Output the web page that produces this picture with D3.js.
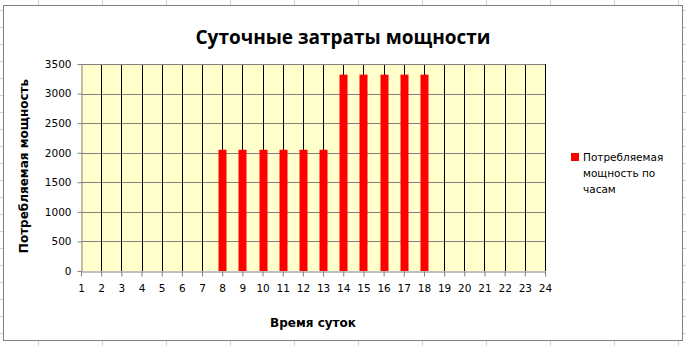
<!DOCTYPE html>
<html>
<head>
<meta charset="utf-8">
<script src="https://cdn.jsdelivr.net/npm/d3@7"></script>
<style>
  body { margin: 0; background: #fff; }
  svg { display: block; }
</style>
</head>
<body>
<div id="chart"></div>
<script>
// hours of the day and power used per hour
const hours = d3.range(1, 25);
const power = [0, 0, 0, 0, 0, 0, 0, 2050, 2050, 2050, 2050, 2050, 2050,
               3320, 3320, 3320, 3320, 3320, 0, 0, 0, 0, 0, 0];
const yTicks = [0, 500, 1000, 1500, 2000, 2500, 3000, 3500];

const width = 686, height = 346;
const svg = d3.select("#chart").append("svg")
    .attr("width", width)
    .attr("height", height);

// spreadsheet cells behind the chart
const sheet = svg.append("g").attr("stroke", "#d0d0d0").attr("stroke-width", 1);
d3.range(38.5, width, 64).forEach(x => {
    sheet.append("line").attr("x1", x).attr("x2", x).attr("y1", 0).attr("y2", height);
});
d3.range(10.5, height, 17).forEach(y => {
    sheet.append("line").attr("x1", 0).attr("x2", width).attr("y1", y).attr("y2", y);
});

// chart area
svg.append("rect")
    .attr("x", 3.5).attr("y", 5.5)
    .attr("width", 679).attr("height", 335)
    .attr("fill", "#fff")
    .attr("stroke", "#808080");

const x = d3.scaleLinear().domain([1, 24]).range([81, 545]);
const y = d3.scaleLinear().domain([0, 3500]).range([271, 64]);

svg.append("rect")
    .attr("x", x(1)).attr("y", y(3500))
    .attr("width", x(24) - x(1)).attr("height", y(0) - y(3500))
    .attr("fill", "#ffffcc");

// horizontal gridlines
svg.append("g")
    .selectAll("line")
    .data(yTicks.slice(1))
    .join("line")
    .attr("x1", x(1)).attr("x2", x(24))
    .attr("y1", d => Math.round(y(d)) + 0.5)
    .attr("y2", d => Math.round(y(d)) + 0.5)
    .attr("stroke", "#808080");

// vertical gridlines
svg.append("g")
    .selectAll("line")
    .data(hours.slice(1))
    .join("line")
    .attr("x1", d => Math.round(x(d)) + 0.5)
    .attr("x2", d => Math.round(x(d)) + 0.5)
    .attr("y1", y(3500)).attr("y2", y(0))
    .attr("stroke", "#000");

// bars
const barW = 8;
svg.append("g")
    .selectAll("rect")
    .data(hours.map((h, i) => ({ h, v: power[i] })).filter(d => d.v > 0))
    .join("rect")
    .attr("x", d => Math.round(x(d.h)) + 0.5 - barW / 2)
    .attr("y", d => y(d.v))
    .attr("width", barW)
    .attr("height", d => y(0) - y(d.v))
    .attr("fill", "#ff0000");

// axes
const yAxis = svg.append("g")
    .attr("transform", `translate(${Math.round(x(1)) + 0.5},0)`)
    .call(d3.axisLeft(y).tickValues(yTicks).tickFormat(d3.format("d")).tickSize(4).tickPadding(6).tickSizeOuter(0));

const xAxis = svg.append("g")
    .attr("transform", `translate(0,${Math.round(y(0)) + 0.5})`)
    .call(d3.axisBottom(x).tickValues(hours).tickFormat(d3.format("d")).tickSize(5).tickPadding(8).tickSizeOuter(0));

[yAxis, xAxis].forEach(a => {
    a.select(".domain").attr("stroke", "#808080");
    a.selectAll(".tick line").attr("stroke", "#808080");
    a.selectAll(".tick text")
        .attr("fill", "#000")
        .style("font-family", "DejaVu Sans")
        .style("font-size", "10.5px");
});

// top border of plot
svg.append("line")
    .attr("x1", x(1)).attr("x2", x(24))
    .attr("y1", Math.round(y(3500)) + 0.5).attr("y2", Math.round(y(3500)) + 0.5)
    .attr("stroke", "#808080");

// titles
svg.append("text")
    .attr("x", 343).attr("y", 44)
    .attr("text-anchor", "middle")
    .style("font-family", "Open Sans")
    .style("font-weight", "bold")
    .style("font-size", "19px")
    .text("Суточные затраты мощности");

svg.append("text")
    .attr("transform", "translate(28,166) rotate(-90)")
    .attr("text-anchor", "middle")
    .style("font-family", "DejaVu Sans")
    .style("font-weight", "bold")
    .style("font-size", "12px")
    .text("Потребляемая мощность");

svg.append("text")
    .attr("x", 313).attr("y", 327)
    .attr("text-anchor", "middle")
    .style("font-family", "DejaVu Sans")
    .style("font-weight", "bold")
    .style("font-size", "12px")
    .text("Время суток");

// legend
const legend = svg.append("g");
legend.append("rect")
    .attr("x", 571).attr("y", 153)
    .attr("width", 8).attr("height", 8)
    .attr("fill", "#ff0000");
["Потребляемая", "мощность по", "часам"].forEach((t, i) => {
    legend.append("text")
        .attr("x", 583).attr("y", 161 + i * 16)
        .style("font-family", "DejaVu Sans")
        .style("font-size", "10.5px")
        .text(t);
});
</script>
</body>
</html>
